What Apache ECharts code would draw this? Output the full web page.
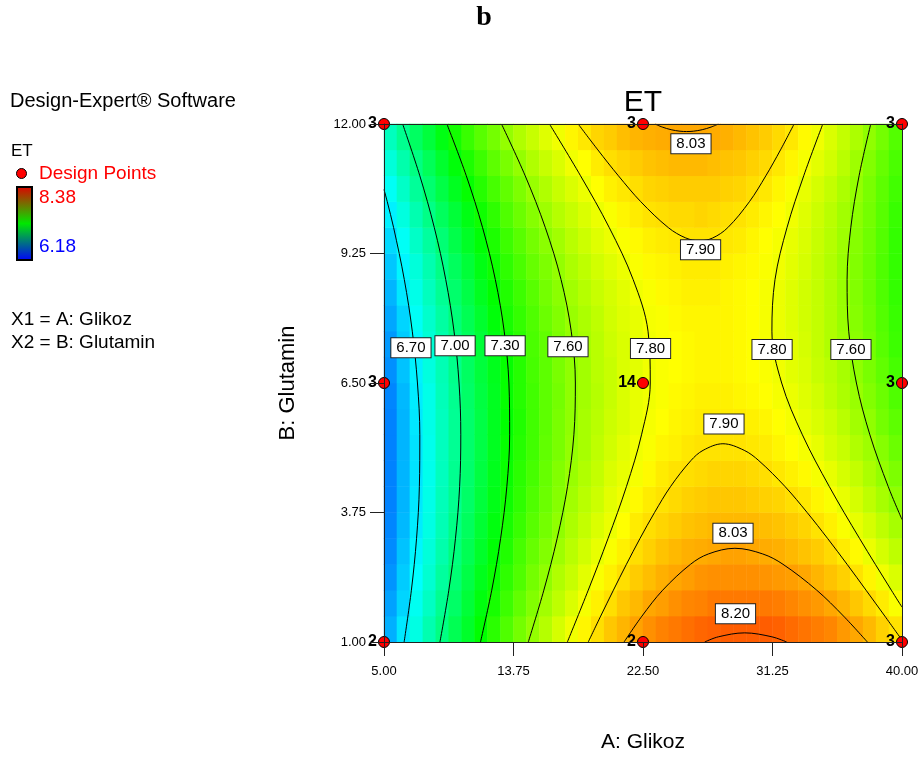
<!DOCTYPE html>
<html>
<head>
<meta charset="utf-8">
<title>ET contour</title>
<script src="https://cdn.jsdelivr.net/npm/echarts@6/dist/echarts.min.js"></script>
<style>
  html, body { margin: 0; padding: 0; background: #fff; }
  #chart { width: 922px; height: 760px; }
</style>
</head>
<body>
<div id="chart"></div>
<script>
// Axis ticks
const GLUCOSE_TICKS = [5, 13.75, 22.5, 31.25, 40];
const GLUTAMINE_TICKS = [1, 3.75, 6.5, 9.25, 12];

// Centres of the response grid cells (A: Glikoz columns, B: Glutamin rows)
const GLUCOSE_CELLS = [5.4375, 6.3125, 7.1875, 8.0625, 8.9375, 9.8125, 10.6875, 11.5625, 12.4375, 13.3125,
  14.1875, 15.0625, 15.9375, 16.8125, 17.6875, 18.5625, 19.4375, 20.3125, 21.1875, 22.0625,
  22.9375, 23.8125, 24.6875, 25.5625, 26.4375, 27.3125, 28.1875, 29.0625, 29.9375, 30.8125,
  31.6875, 32.5625, 33.4375, 34.3125, 35.1875, 36.0625, 36.9375, 37.8125, 38.6875, 39.5625];
const GLUTAMINE_CELLS = [1.275, 1.825, 2.375, 2.925, 3.475, 4.025, 4.575, 5.125, 5.675, 6.225,
  6.775, 7.325, 7.875, 8.425, 8.975, 9.525, 10.075, 10.625, 11.175, 11.725];

// ET response, one row per Glutamin cell (bottom to top), one value per Glikoz cell
const ET_GRID = [
  [6.56,6.68,6.79,6.90,7.00,7.10,7.19,7.28,7.37,7.45,7.53,7.60,7.67,7.74,7.80,7.85,7.90,7.95,7.99,8.03,8.07,8.10,8.12,8.14,8.16,8.17,8.18,8.18,8.18,8.18,8.17,8.15,8.13,8.11,8.09,8.05,8.02,7.98,7.93,7.89],
  [6.53,6.64,6.76,6.86,6.97,7.06,7.16,7.25,7.33,7.41,7.49,7.56,7.63,7.69,7.75,7.81,7.86,7.90,7.95,7.98,8.02,8.04,8.07,8.09,8.10,8.12,8.12,8.12,8.12,8.12,8.11,8.09,8.07,8.05,8.02,7.99,7.95,7.91,7.87,7.82],
  [6.50,6.62,6.73,6.83,6.94,7.03,7.13,7.22,7.30,7.38,7.45,7.53,7.59,7.66,7.71,7.77,7.82,7.86,7.90,7.94,7.97,8.00,8.02,8.04,8.06,8.07,8.07,8.07,8.07,8.06,8.05,8.04,8.02,7.99,7.96,7.93,7.89,7.85,7.80,7.75],
  [6.48,6.60,6.71,6.81,6.91,7.01,7.10,7.19,7.27,7.35,7.43,7.50,7.56,7.62,7.68,7.73,7.78,7.82,7.86,7.90,7.93,7.96,7.98,8.00,8.01,8.02,8.03,8.03,8.02,8.01,8.00,7.98,7.96,7.94,7.91,7.87,7.84,7.79,7.74,7.69],
  [6.47,6.58,6.69,6.79,6.89,6.99,7.08,7.17,7.25,7.33,7.40,7.47,7.53,7.59,7.65,7.70,7.75,7.79,7.83,7.87,7.90,7.92,7.94,7.96,7.97,7.98,7.98,7.98,7.98,7.97,7.96,7.94,7.92,7.89,7.86,7.82,7.78,7.74,7.69,7.64],
  [6.46,6.57,6.68,6.78,6.88,6.97,7.06,7.15,7.23,7.31,7.38,7.45,7.51,7.57,7.63,7.68,7.72,7.77,7.80,7.84,7.87,7.89,7.91,7.93,7.94,7.95,7.95,7.95,7.94,7.93,7.92,7.90,7.88,7.85,7.82,7.78,7.74,7.69,7.64,7.59],
  [6.46,6.57,6.67,6.77,6.87,6.97,7.05,7.14,7.22,7.30,7.37,7.43,7.50,7.56,7.61,7.66,7.70,7.75,7.78,7.81,7.84,7.87,7.89,7.90,7.91,7.92,7.92,7.92,7.91,7.90,7.88,7.86,7.84,7.81,7.78,7.74,7.70,7.65,7.60,7.55],
  [6.46,6.57,6.67,6.77,6.87,6.96,7.05,7.13,7.21,7.29,7.36,7.42,7.49,7.54,7.60,7.64,7.69,7.73,7.77,7.80,7.82,7.85,7.86,7.88,7.89,7.89,7.89,7.89,7.88,7.87,7.85,7.83,7.81,7.78,7.74,7.71,7.66,7.62,7.57,7.51],
  [6.46,6.57,6.68,6.78,6.87,6.96,7.05,7.13,7.21,7.28,7.35,7.42,7.48,7.54,7.59,7.64,7.68,7.72,7.75,7.78,7.81,7.83,7.85,7.86,7.87,7.87,7.87,7.87,7.86,7.85,7.83,7.81,7.78,7.75,7.72,7.68,7.63,7.59,7.53,7.48],
  [6.47,6.58,6.69,6.78,6.88,6.97,7.06,7.14,7.21,7.29,7.36,7.42,7.48,7.53,7.59,7.63,7.67,7.71,7.75,7.78,7.80,7.82,7.84,7.85,7.86,7.86,7.86,7.85,7.84,7.83,7.81,7.79,7.76,7.73,7.69,7.65,7.61,7.56,7.51,7.45],
  [6.49,6.60,6.70,6.80,6.89,6.98,7.07,7.15,7.22,7.29,7.36,7.43,7.48,7.54,7.59,7.63,7.68,7.71,7.75,7.77,7.80,7.82,7.83,7.84,7.85,7.85,7.85,7.84,7.83,7.82,7.80,7.77,7.75,7.71,7.68,7.64,7.59,7.54,7.49,7.43],
  [6.51,6.62,6.72,6.82,6.91,7.00,7.08,7.16,7.24,7.31,7.37,7.44,7.49,7.55,7.60,7.64,7.68,7.72,7.75,7.78,7.80,7.82,7.83,7.84,7.85,7.85,7.85,7.84,7.83,7.81,7.79,7.77,7.74,7.70,7.66,7.62,7.58,7.53,7.47,7.41],
  [6.54,6.64,6.75,6.84,6.93,7.02,7.10,7.18,7.26,7.33,7.39,7.45,7.51,7.56,7.61,7.65,7.69,7.73,7.76,7.78,7.81,7.82,7.84,7.85,7.85,7.85,7.85,7.84,7.83,7.81,7.79,7.76,7.73,7.70,7.66,7.61,7.57,7.52,7.46,7.40],
  [6.57,6.68,6.78,6.87,6.96,7.05,7.13,7.21,7.28,7.35,7.41,7.47,7.53,7.58,7.63,7.67,7.71,7.74,7.77,7.80,7.82,7.84,7.85,7.86,7.86,7.86,7.85,7.84,7.83,7.81,7.79,7.76,7.73,7.70,7.66,7.61,7.56,7.51,7.45,7.39],
  [6.61,6.71,6.81,6.90,6.99,7.08,7.16,7.24,7.31,7.38,7.44,7.50,7.55,7.60,7.65,7.69,7.73,7.76,7.79,7.82,7.84,7.85,7.86,7.87,7.87,7.87,7.86,7.85,7.84,7.82,7.80,7.77,7.74,7.70,7.66,7.61,7.56,7.51,7.45,7.39],
  [6.65,6.75,6.85,6.94,7.03,7.12,7.20,7.27,7.34,7.41,7.47,7.53,7.58,7.63,7.68,7.72,7.76,7.79,7.82,7.84,7.86,7.87,7.88,7.89,7.89,7.89,7.88,7.87,7.85,7.83,7.81,7.78,7.75,7.71,7.67,7.62,7.57,7.52,7.46,7.39],
  [6.70,6.80,6.90,6.99,7.08,7.16,7.24,7.31,7.38,7.45,7.51,7.57,7.62,7.67,7.71,7.75,7.79,7.82,7.85,7.87,7.89,7.90,7.91,7.91,7.92,7.91,7.90,7.89,7.87,7.85,7.83,7.80,7.76,7.72,7.68,7.63,7.58,7.53,7.47,7.40],
  [6.75,6.85,6.95,7.04,7.13,7.21,7.29,7.36,7.43,7.49,7.55,7.61,7.66,7.71,7.75,7.79,7.83,7.86,7.88,7.90,7.92,7.93,7.94,7.94,7.94,7.94,7.93,7.92,7.90,7.88,7.85,7.82,7.78,7.74,7.70,7.65,7.60,7.54,7.48,7.42],
  [6.81,6.91,7.00,7.09,7.18,7.26,7.34,7.41,7.48,7.54,7.60,7.66,7.71,7.75,7.80,7.83,7.87,7.90,7.92,7.94,7.96,7.97,7.98,7.98,7.98,7.97,7.96,7.95,7.93,7.91,7.88,7.85,7.81,7.77,7.73,7.68,7.62,7.56,7.50,7.44],
  [6.87,6.97,7.07,7.15,7.24,7.32,7.40,7.47,7.53,7.60,7.66,7.71,7.76,7.80,7.85,7.88,7.92,7.94,7.97,7.99,8.00,8.01,8.02,8.02,8.02,8.01,8.00,7.98,7.96,7.94,7.91,7.88,7.84,7.80,7.75,7.70,7.65,7.59,7.53,7.46]
];

// Contour lines, as [A: Glikoz, B: Glutamin] points
const CONTOUR_670 = [[6.36,1],[6.85,2.1],[7.20,3.2],[7.39,4.3],[7.42,5.4],[7.26,6.5],[6.91,7.6],[6.37,8.7],[5.65,9.8],[5.22,10.35],[5,10.61]];
const CONTOUR_700 = [[8.78,1],[9.38,2.1],[9.83,3.2],[10.11,4.3],[10.19,5.4],[10.07,6.5],[9.73,7.6],[9.17,8.7],[8.40,9.8],[7.42,10.9],[6.26,12]];
const CONTOUR_730 = [[11.52,1],[12.28,2.1],[12.88,3.2],[13.30,4.3],[13.49,5.4],[13.44,6.5],[13.12,7.6],[12.52,8.7],[11.66,9.8],[10.56,10.9],[9.25,12]];
const CONTOUR_760_L = [[14.75,1],[15.80,2.1],[16.70,3.2],[17.40,4.3],[17.83,5.4],[17.93,6.5],[17.65,7.6],[16.96,8.7],[15.90,9.8],[14.54,10.9],[12.94,12]];
const CONTOUR_780_L = [[17.39,1],[18.80,2.1],[20.14,3.2],[21.38,4.3],[22.40,5.4],[22.99,6.5],[22.84,7.6],[21.83,8.7],[20.22,9.8],[18.28,10.9],[16.18,12]];
const CONTOUR_780_R = [[40,1.74],[39.28,2.1],[37.13,3.2],[35.09,4.3],[33.27,5.4],[31.87,6.5],[31.21,7.6],[31.42,8.7],[32.23,9.8],[33.36,10.9],[34.65,12]];
const CONTOUR_760_R = [[40,3.60],[39.07,4.3],[37.83,5.4],[36.92,6.5],[36.40,7.6],[36.29,8.7],[36.54,9.8],[37.10,10.9],[37.89,12]];
const CONTOUR_790_B = [[18.80,1],[19.64,1.55],[20.50,2.1],[21.38,2.65],[22.30,3.2],[23.28,3.75],[24.36,4.3],[25.73,4.85],[26.56,5.07],[27.90,5.21],[29.34,5.07],[30.33,4.85],[32.10,4.3],[33.59,3.75],[34.97,3.2],[36.29,2.65],[37.57,2.1],[38.84,1.55],[40,1.04]];
const CONTOUR_790_T = [[18.12,12],[19.45,11.45],[20.84,10.9],[22.35,10.35],[24.21,9.8],[25.39,9.58],[26.32,9.52],[27.21,9.58],[28.23,9.8],[29.69,10.35],[30.80,10.9],[31.79,11.45],[32.71,12]];
const CONTOUR_803_T = [[23.31,12],[23.8,11.935],[24.4,11.879],[25.0,11.847],[25.45,11.84],[25.9,11.847],[26.5,11.879],[27.1,11.935],[27.59,12]];
const CONTOUR_803_B = [[21.22,1],[22.43,1.55],[23.83,2.1],[25.71,2.65],[26.92,2.87],[28.71,2.99],[30.59,2.87],[31.96,2.65],[34.24,2.1],[36.05,1.55],[37.66,1]];
const CONTOUR_820 = [[26.67,1],[27.59,1.11],[29.37,1.194],[31.21,1.11],[32.21,1]];

// Contour labels: where each level is tagged, and its text
const LABEL_A = [6.82, 9.80, 13.18, 17.43, 23.01, 31.22, 36.55, 25.74, 26.39, 27.97, 28.58, 28.75];
const LABEL_B = [7.25, 7.29, 7.29, 7.27, 7.23, 7.21, 7.21, 11.58, 9.33, 5.63, 3.31, 1.60];
const LABEL_TEXT = ['6.70', '7.00', '7.30', '7.60', '7.80', '7.80', '7.60', '8.03', '7.90', '7.90', '8.03', '8.20'];

// Design points and number of runs at each
const DESIGN_A = [5, 5, 5, 22.5, 22.5, 22.5, 40, 40, 40];
const DESIGN_B = [1, 6.5, 12, 1, 6.5, 12, 1, 6.5, 12];
const DESIGN_RUNS = [2, 3, 3, 2, 14, 3, 3, 3, 3];

const ET_MIN = 6.18;
const ET_MAX = 8.38;

const FONT = '"Liberation Sans", Arial, sans-serif';
const chart = echarts.init(document.getElementById('chart'), null, { renderer: 'canvas' });

const cells = [];
ET_GRID.forEach((row, j) => row.forEach((v, i) => cells.push([i, j, v])));

const contours = [CONTOUR_670, CONTOUR_700, CONTOUR_730, CONTOUR_760_L, CONTOUR_780_L, CONTOUR_780_R,
  CONTOUR_760_R, CONTOUR_790_B, CONTOUR_790_T, CONTOUR_803_T, CONTOUR_803_B, CONTOUR_820];

const gridBox = { left: 384, top: 124, width: 518, height: 518 };

const contourSeries = contours.map(pts => ({
  type: 'line',
  xAxisIndex: 1,
  yAxisIndex: 1,
  data: pts,
  smooth: 0.35,
  symbol: 'none',
  silent: true,
  z: 3,
  lineStyle: { color: '#000', width: 1 }
}));

const frameLine = { show: true, lineStyle: { color: '#222', width: 1 } };

const option = {
  animation: false,
  backgroundColor: '#fff',
  grid: [Object.assign({}, gridBox), Object.assign({}, gridBox)],
  xAxis: [
    { gridIndex: 0, type: 'category', data: GLUCOSE_CELLS, show: false, boundaryGap: true },
    {
      gridIndex: 1, type: 'value', min: 5, max: 40, position: 'bottom', z: 10,
      axisLine: frameLine,
      axisTick: { show: true, length: 14, customValues: GLUCOSE_TICKS, lineStyle: { color: '#222' } },
      axisLabel: {
        customValues: GLUCOSE_TICKS, margin: 23, fontSize: 13, color: '#000', fontFamily: FONT,
        formatter: v => Number(v).toFixed(2)
      },
      splitLine: { show: false }
    },
    {
      gridIndex: 1, type: 'value', min: 5, max: 40, position: 'top', z: 10,
      axisLine: frameLine, axisTick: { show: false }, axisLabel: { show: false }, splitLine: { show: false }
    }
  ],
  yAxis: [
    { gridIndex: 0, type: 'category', data: GLUTAMINE_CELLS, show: false, boundaryGap: true },
    {
      gridIndex: 1, type: 'value', min: 1, max: 12, position: 'left', z: 10,
      axisLine: frameLine,
      axisTick: { show: true, length: 14, customValues: GLUTAMINE_TICKS, lineStyle: { color: '#222' } },
      axisLabel: {
        customValues: GLUTAMINE_TICKS, margin: 18, fontSize: 13, color: '#000', fontFamily: FONT,
        formatter: v => Number(v).toFixed(2)
      },
      splitLine: { show: false }
    },
    {
      gridIndex: 1, type: 'value', min: 1, max: 12, position: 'right', z: 10,
      axisLine: frameLine, axisTick: { show: false }, axisLabel: { show: false }, splitLine: { show: false }
    }
  ],
  visualMap: {
    type: 'continuous',
    show: false,
    seriesIndex: 0,
    dimension: 2,
    min: ET_MIN,
    max: ET_MAX,
    inRange: { color: ['#0000ff', '#00ffff', '#00ff00', '#ffff00', '#ff0000'] }
  },
  series: [
    {
      type: 'heatmap',
      xAxisIndex: 0,
      yAxisIndex: 0,
      data: cells,
      progressive: 0,
      silent: true,
      z: 1,
      itemStyle: { borderWidth: 0 },
      emphasis: { disabled: true }
    },
    ...contourSeries,
    {
      type: 'scatter',
      xAxisIndex: 1,
      yAxisIndex: 1,
      silent: true,
      z: 4,
      symbolSize: 1,
      itemStyle: { color: 'rgba(0,0,0,0)', opacity: 1 },
      data: LABEL_A.map((a, i) => [a, LABEL_B[i], LABEL_TEXT[i]]),
      label: {
        show: true,
        position: 'inside',
        formatter: p => p.value[2],
        color: '#000',
        opacity: 1,
        fontSize: 15,
        fontFamily: FONT,
        backgroundColor: '#fff',
        borderColor: '#222',
        borderWidth: 1,
        padding: [3, 5, 1, 5]
      }
    },
    {
      type: 'scatter',
      xAxisIndex: 1,
      yAxisIndex: 1,
      silent: true,
      z: 5,
      symbol: 'circle',
      symbolSize: 11,
      itemStyle: { color: '#ff0000', borderColor: '#000', borderWidth: 1, opacity: 1 },
      data: DESIGN_A.map((a, i) => [a, DESIGN_B[i], DESIGN_RUNS[i]]),
      label: {
        show: true,
        position: 'left',
        distance: 1,
        formatter: p => String(p.value[2]),
        color: '#000',
        opacity: 1,
        fontSize: 16,
        fontWeight: 'bold',
        fontFamily: FONT
      }
    }
  ],
  graphic: [
    { type: 'text', x: 484, y: 18, style: { text: 'b', font: 'bold 28px "Liberation Serif", "Times New Roman", serif', fill: '#000', align: 'center', verticalAlign: 'middle' } },
    { type: 'text', x: 643, y: 103, style: { text: 'ET', font: '30px ' + FONT, fill: '#000', align: 'center', verticalAlign: 'middle' } },
    { type: 'text', x: 643, y: 742, style: { text: 'A: Glikoz', font: '21px ' + FONT, fill: '#000', align: 'center', verticalAlign: 'middle' } },
    { type: 'text', x: 288, y: 383, rotation: Math.PI / 2, style: { text: 'B: Glutamin', font: '22px ' + FONT, fill: '#000', align: 'center', verticalAlign: 'middle' } },
    { type: 'text', x: 10, y: 101, style: { text: 'Design-Expert® Software', font: '20px ' + FONT, fill: '#000', align: 'left', verticalAlign: 'middle' } },
    { type: 'text', x: 11, y: 151, style: { text: 'ET', font: '17px ' + FONT, fill: '#000', align: 'left', verticalAlign: 'middle' } },
    { type: 'circle', shape: { cx: 21.5, cy: 173.5, r: 5 }, style: { fill: '#ff0000', stroke: '#000', lineWidth: 1 } },
    { type: 'text', x: 39, y: 174, style: { text: 'Design Points', font: '19px ' + FONT, fill: '#ff0000', align: 'left', verticalAlign: 'middle' } },
    {
      type: 'rect', shape: { x: 17, y: 187, width: 15, height: 73 },
      style: {
        fill: new echarts.graphic.LinearGradient(0, 0, 0, 1, [
          { offset: 0, color: '#e00000' },
          { offset: 0.5, color: '#00e800' },
          { offset: 1, color: '#0000ff' }
        ]),
        stroke: '#000', lineWidth: 2
      }
    },
    { type: 'text', x: 39, y: 198, style: { text: ET_MAX.toFixed(2), font: '19px ' + FONT, fill: '#ff0000', align: 'left', verticalAlign: 'middle' } },
    { type: 'text', x: 39, y: 247, style: { text: ET_MIN.toFixed(2), font: '19px ' + FONT, fill: '#0000ff', align: 'left', verticalAlign: 'middle' } },
    { type: 'text', x: 11, y: 320, style: { text: 'X1 = A: Glikoz', font: '19px ' + FONT, fill: '#000', align: 'left', verticalAlign: 'middle' } },
    { type: 'text', x: 11, y: 343, style: { text: 'X2 = B: Glutamin', font: '19px ' + FONT, fill: '#000', align: 'left', verticalAlign: 'middle' } }
  ]
};

chart.setOption(option);
</script>
</body>
</html>
